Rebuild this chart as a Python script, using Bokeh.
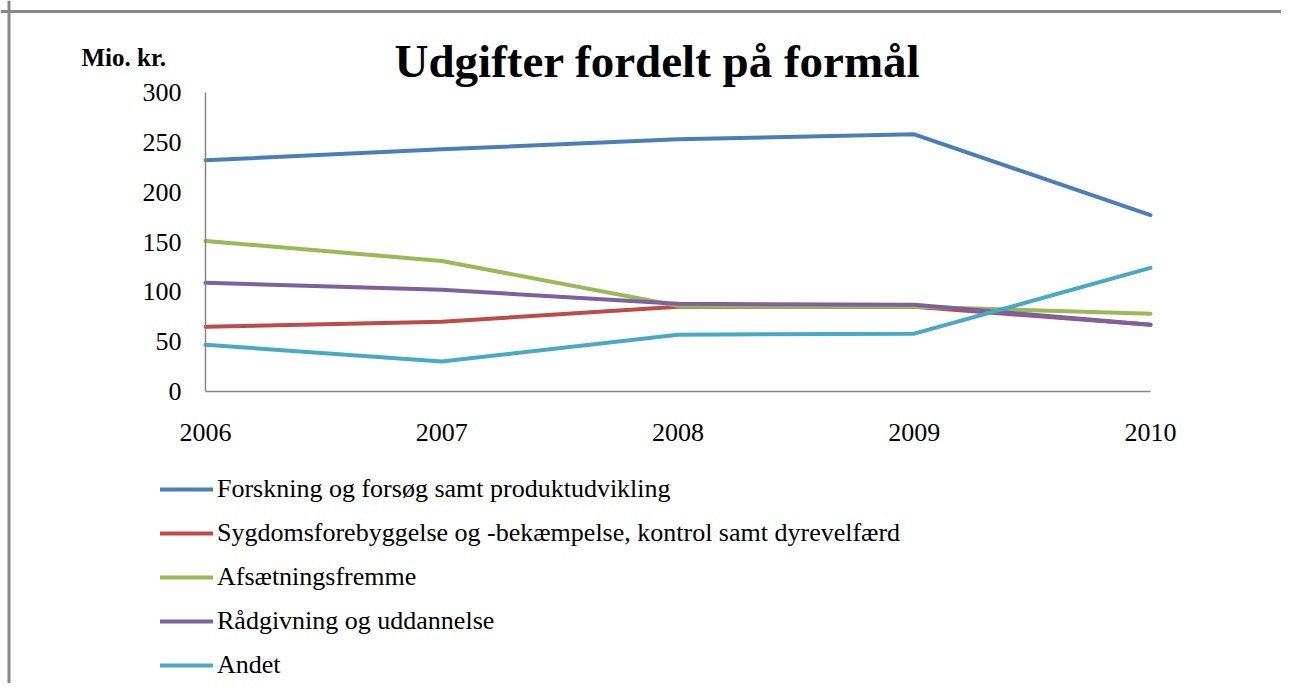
from bokeh.plotting import figure
from bokeh.models import Range1d, FixedTicker, Legend, LegendItem, Label, Span
from bokeh.embed import file_html
from bokeh.resources import INLINE

years = [2006, 2007, 2008, 2009, 2010]
forskning = [232, 243, 253, 258, 177]
sygdom = [65, 70, 85, 85, 67]
afsaetning = [151, 131, 86, 85, 78]
raadgivning = [109, 102, 88, 87, 67]
andet = [47, 30, 57, 58, 124]

series_names = [
    "Forskning og forsøg samt produktudvikling",
    "Sygdomsforebyggelse og -bekæmpelse, kontrol samt dyrevelfærd",
    "Afsætningsfremme",
    "Rådgivning og uddannelse",
    "Andet",
]
series_values = [forskning, sygdom, afsaetning, raadgivning, andet]
colors = ["#4A7EBB", "#BE4B48", "#98B954", "#7D60A0", "#46AAC5"]
y_ticks = [0, 50, 100, 150, 200, 250, 300]
title_text = "Udgifter fordelt på formål"
unit_text = "Mio. kr."

FONT = "Liberation Serif"
W, H = 1281, 683

# pixel geometry of the plot area inside the canvas
PX_L, PX_R, PY_T, PY_B = 205, 1150, 92, 391
x0, x1 = years[0], years[-1]
y0, y1 = y_ticks[0], y_ticks[-1]
xs = (x1 - x0) / (PX_R - PX_L)
ys = (y1 - y0) / (PY_B - PY_T)
x_start = x0 - PX_L * xs
x_end = x1 + (W - PX_R) * xs
y_start = y0 - (H - PY_B) * ys
y_end = y1 + PY_T * ys

p = figure(width=W, height=H, output_backend="svg", toolbar_location=None,
           title=None, x_range=Range1d(x_start, x_end),
           y_range=Range1d(y_start, y_end), min_border=0)

p.outline_line_color = None
p.grid.visible = False
p.background_fill_color = "white"
p.border_fill_color = "white"

for ax in (p.xaxis[0], p.yaxis[0]):
    ax.axis_line_color = "#868686"
    ax.axis_line_width = 1.5
    ax.major_tick_line_color = None
    ax.minor_tick_line_color = None
    ax.major_tick_out = 0
    ax.major_tick_in = 0
    ax.major_label_text_font = FONT
    ax.major_label_text_font_size = "26px"
    ax.major_label_text_color = "black"

p.xaxis.ticker = FixedTicker(ticks=years)
p.xaxis.fixed_location = y0
p.xaxis.bounds = (x0, x1)
p.xaxis.major_label_standoff = 32
p.yaxis.ticker = FixedTicker(ticks=y_ticks)
p.yaxis.fixed_location = x0
p.yaxis.bounds = (y0, y1)
p.yaxis.major_label_standoff = 24

# chart border (left and top edges)
p.add_layout(Span(location=x_start + 8.5 * xs, dimension="height",
                  line_color="#878787", line_width=3))
p.add_layout(Span(location=y_end - 11 * ys, dimension="width",
                  line_color="#878787", line_width=3))

items = []
for name, vals, c in zip(series_names, series_values, colors):
    r = p.line(years, vals, line_color=c, line_width=4, line_cap="round",
               line_join="round")
    items.append(LegendItem(label=name, renderers=[r]))

legend = Legend(items=items, location=(160, 3), orientation="vertical",
                glyph_width=53, glyph_height=20, label_standoff=4,
                label_text_font=FONT, label_text_font_size="26px",
                label_text_color="black", spacing=14, padding=0, margin=0,
                border_line_color=None, background_fill_alpha=0)
p.add_layout(legend, "center")

p.add_layout(Label(x=657, y=H - 60, x_units="screen", y_units="screen",
                   text=title_text, text_font=FONT, text_font_size="47px",
                   text_font_style="bold", text_align="center",
                   text_baseline="alphabetic", text_color="black"))

p.add_layout(Label(x=81, y=H - 57, x_units="screen", y_units="screen",
                   text=unit_text, text_font=FONT, text_font_size="25px",
                   text_font_style="bold", text_baseline="alphabetic",
                   text_color="black"))

open("out.html", "w").write(file_html(p, INLINE))
